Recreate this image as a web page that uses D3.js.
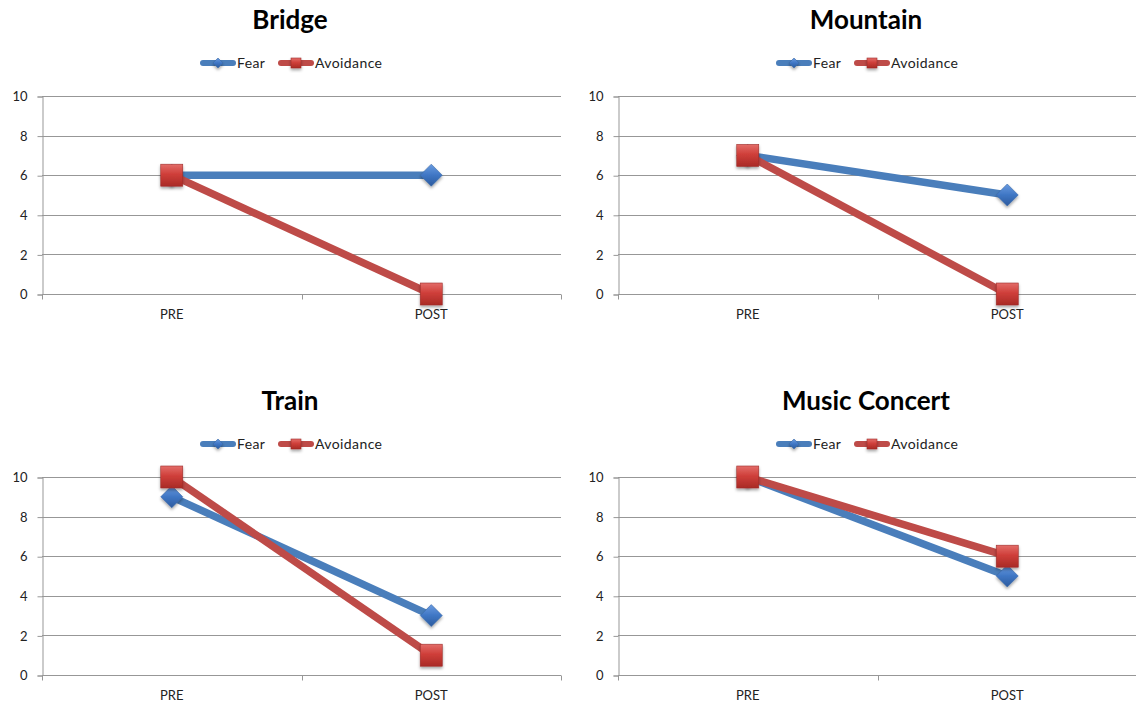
<!DOCTYPE html>
<html>
<head>
<meta charset="utf-8">
<script src="https://cdn.jsdelivr.net/npm/d3@7"></script>
<style>
  html, body { margin: 0; padding: 0; background: #fff; }
  svg { display: block; }
</style>
</head>
<body>
<script>
// Fear and avoidance ratings before and after treatment, one chart per situation
const titles = ["Bridge", "Mountain", "Train", "Music Concert"];
const categories = ["PRE", "POST"];
const fear = [[6, 6], [7, 5], [9, 3], [10, 5]];
const avoidance = [[6, 0], [7, 0], [10, 1], [10, 6]];
const seriesNames = ["Fear", "Avoidance"];
const yTicks = [0, 2, 4, 6, 8, 10];

const W = 1136, H = 707;
const blue = "#4a7ebb", red = "#be4b48";
const gridColor = "#979797";
const fontFam = "Lato, 'Open Sans', sans-serif";

const svg = d3.select("body").append("svg").attr("width", W).attr("height", H);
const defs = svg.append("defs");

// bevelled marker fills
function grad(id, stops) {
  const g = defs.append("linearGradient").attr("id", id)
    .attr("x1", 0).attr("y1", 0).attr("x2", 0).attr("y2", 1);
  stops.forEach(([o, c]) => g.append("stop").attr("offset", o).attr("stop-color", c));
}
grad("gRed", [[0, "#e36d69"], [0.45, "#cf3f3a"], [1, "#a92a26"]]);
grad("gBlue", [[0, "#6a9be0"], [0.5, "#3f76c4"], [1, "#2c5b9e"]]);
const sh = defs.append("filter").attr("id", "shadow")
  .attr("x", "-50%").attr("y", "-50%").attr("width", "200%").attr("height", "200%");
sh.append("feDropShadow").attr("dx", 0).attr("dy", 2).attr("stdDeviation", 1.4)
  .attr("flood-color", "#000").attr("flood-opacity", 0.35);

const panelOrigins = [[0, 0], [576, 0], [0, 381], [576, 381]];

const x = d3.scaleBand().domain(categories).range([42, 561]);
const y = d3.scaleLinear().domain([0, 10]).range([294, 96]);

function diamond(g, cx, cy, r) {
  g.append("path")
    .attr("d", `M${cx},${cy - r}L${cx + r},${cy}L${cx},${cy + r}L${cx - r},${cy}Z`)
    .attr("fill", "url(#gBlue)").attr("stroke", "#3a6aa8").attr("stroke-width", 0.6)
    .attr("filter", "url(#shadow)");
}
function square(g, cx, cy, s) {
  g.append("rect")
    .attr("x", cx - s / 2).attr("y", cy - s / 2).attr("width", s).attr("height", s)
    .attr("fill", "url(#gRed)").attr("stroke", "#9e2f2b").attr("stroke-width", 0.6)
    .attr("filter", "url(#shadow)");
}

titles.forEach((title, i) => {
  const [ox, oy] = panelOrigins[i];
  const g = svg.append("g").attr("transform", `translate(${ox},${oy})`);

  // title
  g.append("text").attr("x", 290).attr("y", 29).attr("text-anchor", "middle")
    .attr("font-family", fontFam).attr("font-weight", "bold")
    .attr("font-size", 26).attr("fill", "#000").text(title);

  // legend
  const lg = g.append("g").attr("transform", "translate(0,63)");
  const legendItems = [
    { name: seriesNames[0], x0: 200, color: blue, kind: "d" },
    { name: seriesNames[1], x0: 278, color: red, kind: "s" }
  ];
  legendItems.forEach(it => {
    lg.append("line").attr("x1", it.x0 + 3).attr("x2", it.x0 + 33).attr("y1", 0).attr("y2", 0)
      .attr("stroke", it.color).attr("stroke-width", 6).attr("stroke-linecap", "round");
    if (it.kind === "d") diamond(lg, it.x0 + 18, 0, 5);
    else square(lg, it.x0 + 18, 0, 10);
    lg.append("text").attr("x", it.x0 + 37).attr("y", 5)
      .attr("font-family", fontFam).attr("font-size", 14)
      .attr("letter-spacing", 0.4).attr("fill", "#222").text(it.name);
  });

  // gridlines
  g.append("g").selectAll("line").data(yTicks).join("line")
    .attr("x1", 42).attr("x2", 561)
    .attr("y1", d => Math.round(y(d)) + 0.5).attr("y2", d => Math.round(y(d)) + 0.5)
    .attr("stroke", gridColor).attr("stroke-width", 1);

  // y axis
  const ya = g.append("g").attr("transform", "translate(42.5,0.5)")
    .call(d3.axisLeft(y).tickValues(yTicks).tickSize(5).tickPadding(10));
  ya.select(".domain").attr("stroke", gridColor);
  ya.selectAll(".tick line").attr("stroke", gridColor);
  ya.selectAll("text").attr("font-family", fontFam)
    .attr("font-size", 13).attr("fill", "#222");

  // x axis with ticks at category boundaries
  const xa = g.append("g").attr("transform", `translate(0,${Math.round(y(0)) + 0.5})`);
  xa.append("line").attr("x1", 42).attr("x2", 561).attr("stroke", gridColor);
  const bounds = [x.range()[0], x("POST"), x.range()[1]];
  xa.selectAll(".bt").data(bounds).join("line").attr("class", "bt")
    .attr("x1", d => Math.round(d) + 0.5).attr("x2", d => Math.round(d) + 0.5)
    .attr("y1", 0).attr("y2", 5).attr("stroke", gridColor);
  xa.selectAll(".cl").data(categories).join("text").attr("class", "cl")
    .attr("x", d => x(d) + x.bandwidth() / 2).attr("y", 24).attr("text-anchor", "middle")
    .attr("font-family", fontFam).attr("font-size", 13)
    .attr("fill", "#222").text(d => d);

  const cx = d => x(d) + x.bandwidth() / 2;
  const line = d3.line().x((d, j) => cx(categories[j])).y(d => y(d));

  // Fear series
  g.append("path").datum(fear[i]).attr("d", line).attr("fill", "none")
    .attr("stroke", blue).attr("stroke-width", 7.5).attr("stroke-linejoin", "round");
  fear[i].forEach((v, j) => diamond(g, cx(categories[j]), y(v), 11));

  // Avoidance series
  g.append("path").datum(avoidance[i]).attr("d", line).attr("fill", "none")
    .attr("stroke", red).attr("stroke-width", 7.5).attr("stroke-linejoin", "round");
  avoidance[i].forEach((v, j) => square(g, cx(categories[j]), y(v), 22));
});
</script>
</body>
</html>
